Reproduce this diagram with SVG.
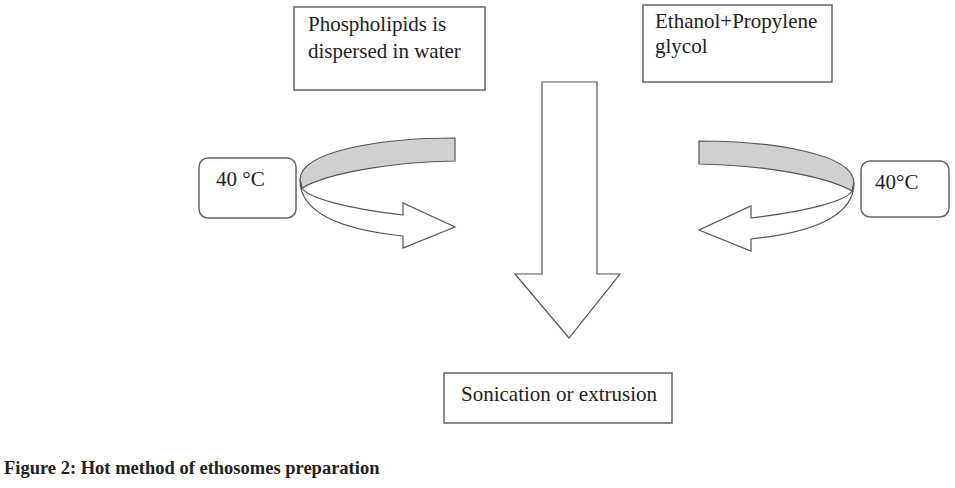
<svg xmlns="http://www.w3.org/2000/svg" width="955" height="488" viewBox="0 0 955 488">
<style>
.box{fill:#fff;stroke:#666;stroke-width:1.5}
.t{font-family:"Liberation Serif","Times New Roman",serif;font-size:21px;fill:#222}
.cap{font-family:"Liberation Serif","Times New Roman",serif;font-size:18.5px;font-weight:bold;fill:#222}
.ar{fill:#fff;stroke:#555;stroke-width:1.2;stroke-linejoin:miter}
.band{fill:#d0d0d0;stroke:#555;stroke-width:1.2}
</style>
<defs>
<g id="curl">
<path class="band" d="M455,138 C385,138 300,150 300,180 L302,188 C330,172 395,162 455,161 Z"/>
<path class="ar" d="M300,180 C300,215 345,230 403,236 L403,248 L455,227 L403,203 L403,215 C345,208 308,198 302,188 Z"/>
</g>
</defs>
<rect width="955" height="488" fill="#fff"/>
<g id="connectors">
<use href="#curl"/>
<use href="#curl" transform="translate(1154,3) scale(-1,1)"/>
<polygon class="ar" points="542,82 597,82 597,274 620,274 569,338 515,274 542,274"/>
</g>
<g id="phospholipids">
<rect class="box" x="294" y="7" width="191" height="83"/>
<text class="t" x="308" y="31">Phospholipids is</text>
<text class="t" x="308" y="58">dispersed in water</text>
</g>
<g id="ethanol">
<rect class="box" x="643" y="5" width="189" height="77"/>
<text class="t" x="655" y="28">Ethanol+Propylene</text>
<text class="t" x="655" y="53">glycol</text>
</g>
<g id="temp-left">
<rect class="box" x="199" y="158" width="97" height="60" rx="9"/>
<text class="t" x="216" y="186">40 °C</text>
</g>
<g id="temp-right">
<rect class="box" x="861" y="161" width="88" height="56" rx="9"/>
<text class="t" x="875" y="189">40°C</text>
</g>
<g id="sonication">
<rect class="box" x="444" y="373" width="228" height="50"/>
<text class="t" x="461" y="401">Sonication or extrusion</text>
</g>
<text class="cap" x="4" y="474">Figure 2: Hot method of ethosomes preparation</text>
</svg>
